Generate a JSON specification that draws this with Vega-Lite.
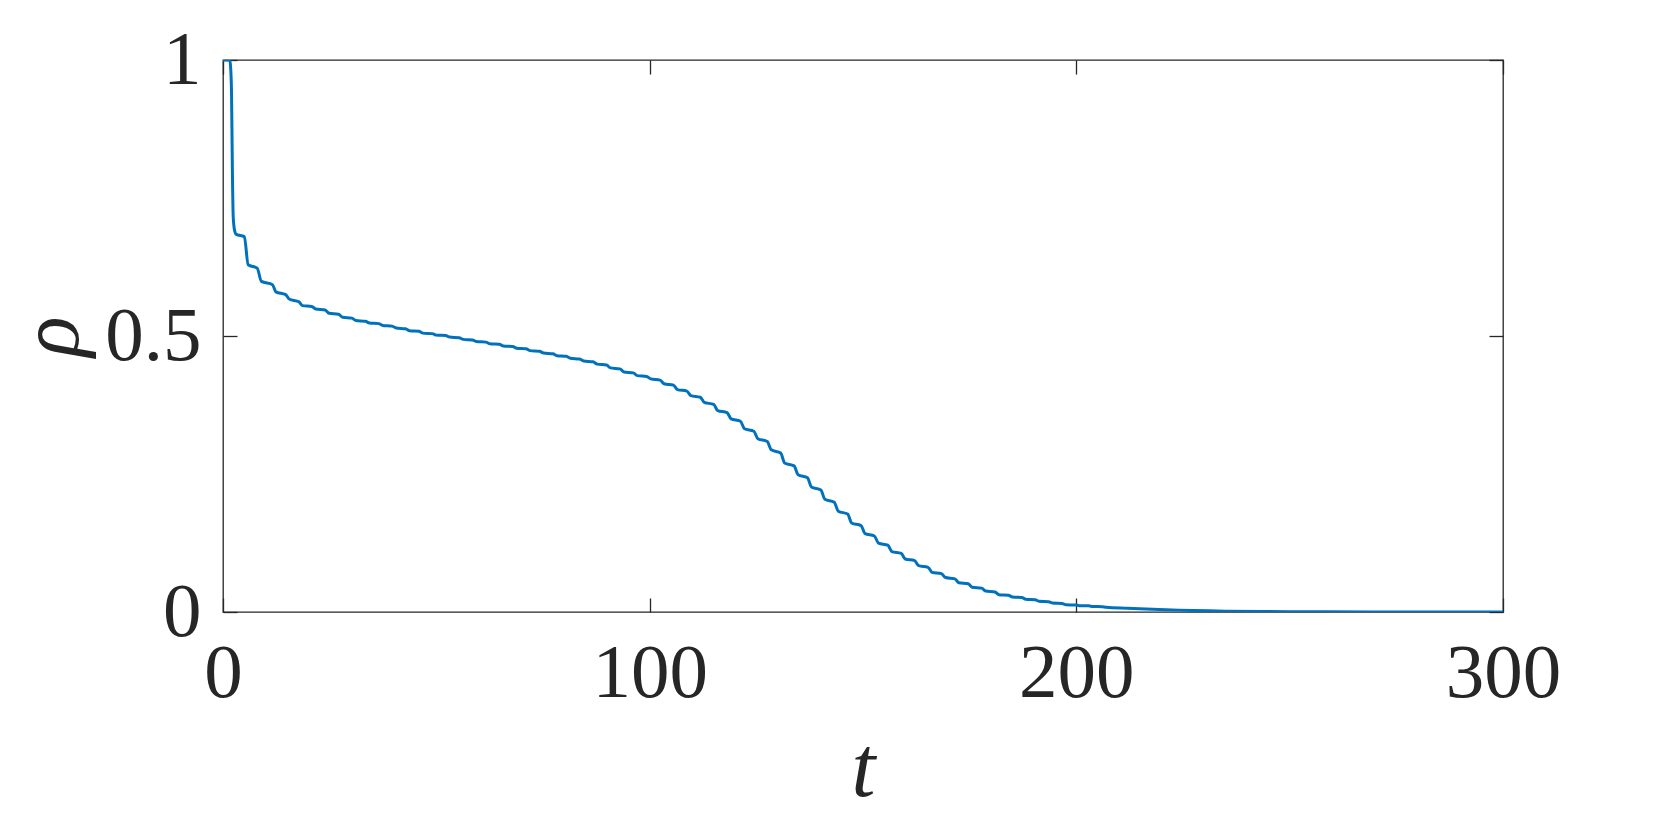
{
  "$schema": "https://vega.github.io/schema/vega-lite/v6.json",
  "width": 1280,
  "height": 552,
  "autosize": {"type": "none"},
  "padding": {"left": 223, "top": 60, "right": 158, "bottom": 214},
  "background": "white",
  "config": {
    "view": {"stroke": "#262626", "strokeWidth": 1.3},
    "axis": {
      "domain": false,
      "grid": false,
      "tickColor": "#262626",
      "tickWidth": 1.3,
      "tickSize": -14,
      "labelFont": "Liberation Serif",
      "labelFontSize": 77,
      "labelColor": "#262626",
      "titleFont": "Liberation Serif",
      "titleColor": "#262626",
      "titleFontWeight": "normal",
      "titleFontStyle": "italic"
    }
  },
  "data": {
    "values": [
      {"t": 0, "rho": 1}, {"t": 1.6, "rho": 1}, {"t": 1.8, "rho": 0.985}, {"t": 2.0, "rho": 0.94},
      {"t": 2.2, "rho": 0.8}, {"t": 2.4, "rho": 0.715}, {"t": 2.75, "rho": 0.69}, {"t": 3.1, "rho": 0.684},
      {"t": 5.0, "rho": 0.68}, {"t": 5.9, "rho": 0.629}, {"t": 8.0, "rho": 0.623}, {"t": 9.0, "rho": 0.599},
      {"t": 11.6, "rho": 0.593}, {"t": 12.4, "rho": 0.58}, {"t": 14.7, "rho": 0.575}, {"t": 15.5, "rho": 0.567},
      {"t": 17.8, "rho": 0.562}, {"t": 18.6, "rho": 0.555},
      {"t": 20.8, "rho": 0.5535}, {"t": 21.74, "rho": 0.549},
      {"t": 23.94, "rho": 0.547}, {"t": 24.88, "rho": 0.5411},
      {"t": 27.08, "rho": 0.5393}, {"t": 28.02, "rho": 0.5339},
      {"t": 30.22, "rho": 0.5324}, {"t": 31.16, "rho": 0.5279},
      {"t": 33.36, "rho": 0.5268}, {"t": 34.3, "rho": 0.5235},
      {"t": 36.5, "rho": 0.5224}, {"t": 37.44, "rho": 0.5191},
      {"t": 39.64, "rho": 0.5179}, {"t": 40.58, "rho": 0.5143},
      {"t": 42.78, "rho": 0.5131}, {"t": 43.72, "rho": 0.5094},
      {"t": 45.92, "rho": 0.5084}, {"t": 46.86, "rho": 0.5052},
      {"t": 49.06, "rho": 0.5043}, {"t": 50.0, "rho": 0.5016},
      {"t": 52.2, "rho": 0.5007}, {"t": 53.14, "rho": 0.498},
      {"t": 55.34, "rho": 0.497}, {"t": 56.28, "rho": 0.4939},
      {"t": 58.48, "rho": 0.4929}, {"t": 59.42, "rho": 0.4899},
      {"t": 61.62, "rho": 0.4889}, {"t": 62.56, "rho": 0.4859},
      {"t": 64.76, "rho": 0.4849}, {"t": 65.7, "rho": 0.4819},
      {"t": 67.9, "rho": 0.4809}, {"t": 68.84, "rho": 0.478},
      {"t": 71.04, "rho": 0.4769}, {"t": 71.98, "rho": 0.4735},
      {"t": 74.18, "rho": 0.4724}, {"t": 75.12, "rho": 0.4691},
      {"t": 77.32, "rho": 0.4679}, {"t": 78.26, "rho": 0.4644},
      {"t": 80.46, "rho": 0.4632}, {"t": 81.4, "rho": 0.4596},
      {"t": 83.6, "rho": 0.4584}, {"t": 84.54, "rho": 0.4547},
      {"t": 86.74, "rho": 0.4533}, {"t": 87.68, "rho": 0.4491},
      {"t": 89.88, "rho": 0.4474}, {"t": 90.82, "rho": 0.4422},
      {"t": 93.02, "rho": 0.4404}, {"t": 93.96, "rho": 0.4349},
      {"t": 96.16, "rho": 0.4332}, {"t": 97.1, "rho": 0.4282},
      {"t": 99.3, "rho": 0.4267}, {"t": 100.24, "rho": 0.4223},
      {"t": 102.44, "rho": 0.4201}, {"t": 103.38, "rho": 0.4135},
      {"t": 105.58, "rho": 0.4109}, {"t": 106.52, "rho": 0.4029},
      {"t": 108.72, "rho": 0.4002}, {"t": 109.66, "rho": 0.3921},
      {"t": 111.86, "rho": 0.389}, {"t": 112.8, "rho": 0.3798},
      {"t": 115.0, "rho": 0.3761}, {"t": 115.94, "rho": 0.3649},
      {"t": 118.14, "rho": 0.3612}, {"t": 119.08, "rho": 0.35},
      {"t": 121.28, "rho": 0.3455}, {"t": 122.22, "rho": 0.332},
      {"t": 124.42, "rho": 0.3275}, {"t": 125.36, "rho": 0.3139},
      {"t": 127.56, "rho": 0.3089}, {"t": 128.5, "rho": 0.2938},
      {"t": 130.7, "rho": 0.2879}, {"t": 131.64, "rho": 0.27},
      {"t": 133.84, "rho": 0.2647}, {"t": 134.78, "rho": 0.2488},
      {"t": 136.98, "rho": 0.2432}, {"t": 137.92, "rho": 0.2265},
      {"t": 140.12, "rho": 0.221}, {"t": 141.06, "rho": 0.2044},
      {"t": 143.26, "rho": 0.199}, {"t": 144.2, "rho": 0.1827},
      {"t": 146.4, "rho": 0.1774}, {"t": 147.34, "rho": 0.1613},
      {"t": 149.54, "rho": 0.1565}, {"t": 150.48, "rho": 0.142},
      {"t": 152.68, "rho": 0.1377}, {"t": 153.62, "rho": 0.1248},
      {"t": 155.82, "rho": 0.121}, {"t": 156.76, "rho": 0.1095},
      {"t": 158.96, "rho": 0.1061}, {"t": 159.9, "rho": 0.096},
      {"t": 162.1, "rho": 0.093}, {"t": 163.04, "rho": 0.0839},
      {"t": 165.24, "rho": 0.0809}, {"t": 166.18, "rho": 0.0718},
      {"t": 168.38, "rho": 0.0695}, {"t": 169.32, "rho": 0.0624},
      {"t": 171.52, "rho": 0.0601}, {"t": 172.46, "rho": 0.0531},
      {"t": 174.66, "rho": 0.0511}, {"t": 175.6, "rho": 0.0449},
      {"t": 177.8, "rho": 0.0432}, {"t": 178.74, "rho": 0.0381},
      {"t": 180.94, "rho": 0.0364}, {"t": 181.88, "rho": 0.0313},
      {"t": 184.08, "rho": 0.0303}, {"t": 185.02, "rho": 0.0271},
      {"t": 187.22, "rho": 0.0261}, {"t": 188.16, "rho": 0.0231},
      {"t": 190.36, "rho": 0.0222}, {"t": 191.3, "rho": 0.0195},
      {"t": 193.5, "rho": 0.0187}, {"t": 194.44, "rho": 0.0163},
      {"t": 196.64, "rho": 0.0155}, {"t": 197.58, "rho": 0.0131},
      {"t": 199.78, "rho": 0.0127}, {"t": 200.72, "rho": 0.0115},
      {"t": 202.92, "rho": 0.0111}, {"t": 203.86, "rho": 0.0099},
      {"t": 206.06, "rho": 0.0096}, {"t": 207.0, "rho": 0.0085},
      {"t": 212, "rho": 0.0068}, {"t": 221, "rho": 0.004}, {"t": 235, "rho": 0.0015},
      {"t": 250, "rho": 0.0006}, {"t": 270, "rho": 0.0002}, {"t": 300, "rho": 0}
    ]
  },
  "layer": [
    {
      "mark": {"type": "line", "color": "#0072BD", "strokeWidth": 3, "interpolate": "monotone", "clip": true},
      "encoding": {
        "x": {
          "field": "t", "type": "quantitative",
          "scale": {"domain": [0, 300], "nice": false},
          "axis": {"orient": "bottom", "values": [0, 100, 200, 300], "format": "d", "labelPadding": 37, "labelFlush": false, "title": "t", "titleFontSize": 86, "titleY": 183, "titleBaseline": "alphabetic"}
        },
        "y": {
          "field": "rho", "type": "quantitative",
          "scale": {"domain": [0, 1], "nice": false},
          "axis": {"orient": "left", "values": [0, 0.5, 1], "format": "~g", "labelPadding": 36, "labelFlush": false, "title": "ρ", "titleFontSize": 84, "titleX": -146, "titleY": 276, "titleAngle": -90, "titleBaseline": "alphabetic", "titleAlign": "center"}
        }
      }
    },
    {
      "mark": {"type": "line", "opacity": 0},
      "encoding": {
        "x": {
          "field": "t", "type": "quantitative",
          "scale": {"domain": [0, 300], "nice": false},
          "axis": {"orient": "top", "values": [0, 100, 200, 300], "labels": false, "title": null}
        },
        "y": {
          "field": "rho", "type": "quantitative",
          "scale": {"domain": [0, 1], "nice": false},
          "axis": {"orient": "right", "values": [0, 0.5, 1], "labels": false, "title": null}
        }
      }
    }
  ],
  "resolve": {"axis": {"x": "independent", "y": "independent"}}
}
